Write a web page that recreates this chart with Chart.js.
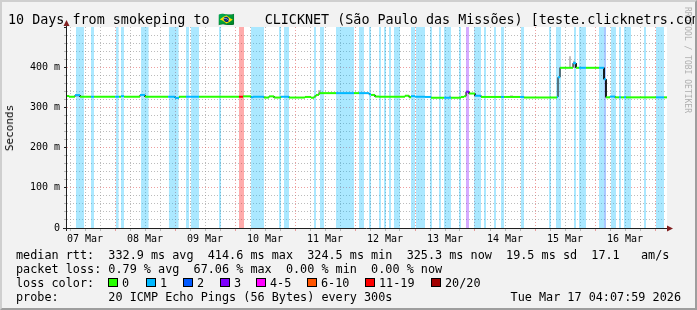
<!DOCTYPE html>
<html>
<head>
<meta charset="utf-8">
<script src="https://cdn.jsdelivr.net/npm/chart.js@4.4.1/dist/chart.umd.min.js"></script>
<style>
  html, body { margin: 0; padding: 0; }
  body {
    width: 697px; height: 310px; position: relative; overflow: hidden;
    background: #f2f2f2; color: #000;
    font-family: "DejaVu Sans Mono", monospace;
  }
  canvas { position: absolute; left: 0; top: 0; }
  #frame {
    position: absolute; left: 0; top: 0; width: 697px; height: 310px;
    box-sizing: border-box; border: 2px solid;
    border-color: #cfcfcf #9e9e9e #9e9e9e #cfcfcf;
  }
  .txt { position: absolute; white-space: pre; }
  #title { left: 8px; top: 11.7px; font-size: 13.4px; line-height: 16px; }
  .flag { display: inline-block; width: 39px; }
  #mark {
    left: 691px; top: 7px; font-size: 8px; line-height: 8px; color: #b0b0b0;
    transform-origin: 0 0; transform: rotate(90deg);
  }
  #ytitle {
    left: 10px; top: 128px; font-size: 11px; line-height: 12px;
    transform: translate(-50%, -50%) rotate(-90deg);
  }
  .row { font-size: 11.8px; line-height: 14px; }
  .sw {
    position: absolute; top: 278px; width: 10px; height: 9px;
    box-sizing: border-box; border: 1px solid #000;
  }
</style>
</head>
<body>
<canvas id="rttChart" width="697" height="310"></canvas>
<div id="mark" class="txt">RRDTOOL / TOBI OETIKER</div>
<div id="title" class="txt">10 Days from smokeping to <span class="flag">🇧🇷</span> CLICKNET (São Paulo das Missões) [teste.clicknetrs.com]</div>
<div id="ytitle" class="txt">Seconds</div>
<div class="txt row" style="left:16px;top:247.5px">median rtt:  332.9 ms avg  414.6 ms max  324.5 ms min  325.3 ms now  19.5 ms sd  17.1   am/s</div>
<div class="txt row" style="left:16px;top:261.5px">packet loss: 0.79 % avg  67.06 % max  0.00 % min  0.00 % now</div>
<div class="txt row" style="left:16px;top:275.5px">loss color:</div>
<div id="lossLegend"></div>
<div class="txt row" style="left:16px;top:289.5px">probe:       20 ICMP Echo Pings (56 Bytes) every 300s</div>
<div class="txt row" style="right:16px;top:289.5px">Tue Mar 17 04:07:59 2026</div>
<div id="frame"></div>

<script>
// =========================================
// Data (hours counted from 07 Mar 00:00)
// =========================================

const dayLabels = [
    "07 Mar", "08 Mar", "09 Mar", "10 Mar", "11 Mar",
    "12 Mar", "13 Mar", "14 Mar", "15 Mar", "16 Mar"
];

const yTickLabels = ["0", "100 m", "200 m", "300 m", "400 m"];

const lossLabels = ["0", "1", "2", "3", "4-5", "6-10", "11-19", "20/20"];

const lossColors = [
    "#26ff00", "#00b8ff", "#0059ff", "#7e00ff",
    "#ff00ff", "#ff5500", "#ff0000", "#a10000"
];

// median rtt, one step per entry (value holds until the next hour)
const medianHours = [
    4.8, 5.6, 8.0, 10.0, 14.4, 15.6, 24.0, 25.6, 26.4, 27.6,
    34.0, 36.0, 45.2, 48.0, 49.6, 52.4, 57.6, 73.6, 75.2, 78.4,
    79.2, 83.6, 85.6, 87.6, 90.4, 93.6, 100.0, 102.4, 103.6, 104.4,
    105.6, 112.4, 119.6, 121.6, 125.6, 126.4, 128.0, 129.6, 140.0, 141.6,
    142.4, 144.0, 148.0, 150.4, 155.6, 158.4, 162.4, 163.6, 164.4, 165.6,
    168.0, 170.4, 178.4, 179.6, 186.0, 187.6, 200.8, 201.2, 202.0, 207.2,
    208.4, 209.6, 212.4, 217.6, 219.6, 220.4, 222.0, 224.0, 225.6, 226.4,
    227.6, 228.4, 240.4, 243.6
];

const medianRtt = [
    328.5, 326.5, 330.5, 326.5, 326.5, 326.5, 326.5, 326.5, 328, 326.5,
    331, 326.5, 326.5, 323.5, 326.5, 326.5, 326.5, 326.5, 327.5, 325,
    326.5, 324.5, 327.5, 324.5, 326.5, 324.5, 326, 324, 327, 331,
    335.5, 335.5, 335.5, 335.5, 333, 331, 327, 326.5, 329, 325.5,
    328, 326.5, 326, 324, 324, 324, 326, 328, 339, 334.5,
    329, 326, 326, 326, 326, 324.5, 326, 375, 398.5, 410,
    398.5, 398.5, 398.5, 398.5, 370, 325, 327, 325, 325, 325,
    325, 325, 325, 325
];

// index into lossColors
const medianLoss = [
    0, 0, 1, 0, 1, 0, 1, 0, 1, 0,
    1, 0, 1, 1, 0, 1, 0, 6, 0, 1,
    1, 0, 0, 0, 1, 0, 0, 0, 0, 0,
    0, 1, 0, 1, 1, 0, 0, 0, 0, 0,
    1, 1, 1, 0, 1, 0, 0, 0, 3, 0,
    1, 0, 1, 0, 1, 0, 1, 1, 0, 1,
    0, 1, 0, 1, 1, 0, 1, 0, 1, 0,
    1, 0, 1, 0
];

// loss background bands
const bandStart = [
    8.4, 14.4, 24.3, 26.4, 34.4, 45.5, 52.4, 54.4, 65.6, 73.6,
    78.4, 89.6, 91.6, 103.6, 106.0, 112.4, 121.6, 125.6, 129.6, 131.6,
    133.6, 135.6, 142.4, 144.4, 150.0, 153.6, 155.6, 161.6, 164.4, 167.6,
    171.6, 175.6, 178.4, 186.4, 197.6, 200.4, 207.6, 209.6, 217.6, 219.6,
    222.4, 225.6, 227.6, 235.6, 240.4
];
const bandEnd = [
    11.6, 15.6, 25.5, 27.6, 37.5, 49.5, 53.6, 57.6, 66.4, 75.6,
    83.6, 90.4, 93.6, 104.4, 107.6, 119.6, 123.6, 126.4, 130.4, 132.4,
    134.4, 138.0, 144.0, 148.0, 150.8, 154.4, 158.4, 162.4, 165.6, 170.4,
    172.4, 176.4, 179.6, 187.6, 198.4, 202.4, 208.4, 212.4, 219.6, 220.4,
    224.4, 226.4, 230.4, 236.4, 243.6
];
const bandLoss = [
    1, 1, 1, 1, 1, 1, 1, 1, 1, 6,
    1, 1, 1, 1, 1, 1, 1, 1, 1, 1,
    1, 1, 1, 1, 1, 1, 1, 1, 3, 1,
    1, 1, 1, 1, 1, 1, 1, 1, 1, 2,
    1, 1, 1, 1, 1
];

// smoke (rtt spread) around the median
const smokeStart = [8.0, 105.2, 157.6, 182.0, 205.6, 207.2];
const smokeEnd = [10.0, 106.4, 158.4, 183.2, 206.4, 208.0];
const smokeLow = [327, 335, 324, 326, 399, 401];
const smokeHigh = [333, 343, 329, 330, 427, 416];


// =========================================
// Datasets
// =========================================

const xMin = 4.8;
const xMax = 244.8;
const yMax = 500;

function withAlpha(hex, a) {
    const n = parseInt(hex.slice(1), 16);
    return "rgba(" + (n >> 16) + "," + ((n >> 8) & 255) + "," + (n & 255) + "," + a + ")";
}

const datasets = [];

// coloured median, horizontal runs only
const runs = [];
medianRtt.forEach((v, i) => {
    const end = i + 1 < medianHours.length ? medianHours[i + 1] : xMax;
    runs.push({ x: medianHours[i], y: v }, { x: end, y: v }, { x: end, y: null });
});
datasets.push({
    data: runs,
    order: 0,
    borderWidth: 2,
    borderColor: "#26ff00",
    borderCapStyle: "butt",
    segment: {
        borderColor: ctx => lossColors[medianLoss[Math.floor(ctx.p0DataIndex / 3)]]
    },
    fill: false
});

// thin black risers between the steps
const risers = [];
for (let i = 1; i < medianRtt.length; i++) {
    if (medianRtt[i] === medianRtt[i - 1]) continue;
    risers.push(
        { x: medianHours[i], y: medianRtt[i - 1] },
        { x: medianHours[i], y: medianRtt[i] },
        { x: medianHours[i], y: null }
    );
}
datasets.push({
    data: risers,
    order: 1,
    borderWidth: 1,
    borderColor: "#000000",
    fill: false
});

// smoke
const smokeTop = [];
const smokeBottom = [];
smokeStart.forEach((s, i) => {
    smokeTop.push({ x: s, y: smokeHigh[i] }, { x: smokeEnd[i], y: smokeHigh[i] }, { x: smokeEnd[i], y: null });
    smokeBottom.push({ x: s, y: smokeLow[i] }, { x: smokeEnd[i], y: smokeLow[i] }, { x: smokeEnd[i], y: null });
});
datasets.push({
    data: smokeTop, order: 2, borderWidth: 0,
    backgroundColor: "rgba(110,110,110,0.45)",
    fill: "+1"
});
datasets.push({ data: smokeBottom, order: 3, borderWidth: 0, fill: false });

// loss bands, one dataset per loss level
[...new Set(bandLoss)].forEach(level => {
    const pts = [];
    bandStart.forEach((s, i) => {
        if (bandLoss[i] !== level) return;
        pts.push({ x: s, y: yMax }, { x: bandEnd[i], y: yMax }, { x: bandEnd[i], y: null });
    });
    datasets.push({
        data: pts,
        order: 4,
        borderWidth: 0,
        backgroundColor: withAlpha(lossColors[level], 0.33),
        fill: "origin"
    });
});


// =========================================
// Loss colour legend
// =========================================

const legendBox = document.getElementById("lossLegend");
const swatchX = [108, 146, 183, 220, 256, 307, 365, 431];
lossLabels.forEach((lab, i) => {
    const sw = document.createElement("div");
    sw.className = "sw";
    sw.style.left = swatchX[i] + "px";
    sw.style.background = lossColors[i];
    legendBox.appendChild(sw);
    const t = document.createElement("div");
    t.className = "txt row";
    t.style.left = (swatchX[i] + 14) + "px";
    t.style.top = "275.5px";
    t.textContent = lab;
    legendBox.appendChild(t);
});


// =========================================
// Chart
// =========================================

const GRID = "rgba(143,143,143,0.6)";
const MGRID = "rgba(222,79,79,0.55)";

const rrdFrame = {
    id: "rrdFrame",
    beforeDraw(chart) {
        const { ctx, chartArea: a } = chart;
        ctx.save();
        ctx.fillStyle = "#ffffff";
        ctx.fillRect(a.left, a.top, a.right - a.left, a.bottom - a.top);
        ctx.restore();
    },
    afterDraw(chart) {
        const { ctx, chartArea: a } = chart;
        ctx.save();
        ctx.strokeStyle = "#1f1f1f";
        ctx.lineWidth = 1;
        ctx.beginPath();
        ctx.moveTo(a.left - 0.5, a.bottom + 3);
        ctx.lineTo(a.left - 0.5, a.top - 4);
        ctx.moveTo(a.left - 4, a.bottom + 0.5);
        ctx.lineTo(a.right + 3, a.bottom + 0.5);
        ctx.stroke();
        ctx.fillStyle = "#801f1f";
        ctx.beginPath();
        ctx.moveTo(a.left - 0.5, a.top - 7);
        ctx.lineTo(a.left - 3.5, a.top - 1);
        ctx.lineTo(a.left + 2.5, a.top - 1);
        ctx.closePath();
        ctx.fill();
        ctx.beginPath();
        ctx.moveTo(a.right + 6, a.bottom + 0.5);
        ctx.lineTo(a.right, a.bottom - 2.5);
        ctx.lineTo(a.right, a.bottom + 3.5);
        ctx.closePath();
        ctx.fill();
        ctx.restore();
    }
};

const tickFont = { family: "DejaVu Sans Mono", size: 10 };

new Chart(document.getElementById("rttChart"), {
    type: "line",
    data: { datasets: datasets },
    options: {
        responsive: false,
        animation: false,
        devicePixelRatio: 1,
        events: [],
        layout: { padding: { left: 0, top: 27, right: 30, bottom: 62 } },
        elements: { point: { radius: 0 }, line: { tension: 0 } },
        plugins: {
            legend: { display: false },
            tooltip: { enabled: false },
            title: { display: false }
        },
        scales: {
            x: {
                type: "linear",
                min: xMin,
                max: xMax,
                afterBuildTicks: s => {
                    const t = [];
                    for (let h = 6; h < xMax; h += 6) t.push({ value: h });
                    s.ticks = t;
                },
                afterFit: s => { s.height = 20; },
                ticks: {
                    autoSkip: false,
                    maxRotation: 0,
                    minRotation: 0,
                    padding: 2,
                    color: "#000",
                    font: tickFont,
                    callback: v => (v % 24 === 12 ? dayLabels[(v - 12) / 24] : "")
                },
                grid: {
                    color: c => (c.tick.value % 24 === 0 ? MGRID : GRID),
                    tickColor: c => (c.tick.value % 24 === 0 ? MGRID : GRID),
                    tickLength: 3,
                    lineWidth: 1
                },
                border: { display: false, dash: [1, 2] }
            },
            y: {
                type: "linear",
                min: 0,
                max: yMax,
                afterBuildTicks: s => {
                    const t = [];
                    for (let v = 0; v <= yMax; v += 20) t.push({ value: v });
                    s.ticks = t;
                },
                afterFit: s => { s.width = 67; },
                ticks: {
                    autoSkip: false,
                    padding: 4,
                    color: "#000",
                    font: tickFont,
                    callback: v => (v % 100 === 0 && v < yMax ? yTickLabels[v / 100] : "")
                },
                grid: {
                    color: c => (c.tick.value >= yMax || c.tick.value === 0 ? "rgba(0,0,0,0)"
                        : c.tick.value % 100 === 0 ? MGRID : GRID),
                    tickColor: c => (c.tick.value % 100 === 0 ? "#1f1f1f" : GRID),
                    tickLength: 3,
                    lineWidth: 1
                },
                border: { display: false, dash: [1, 2] }
            }
        }
    },
    plugins: [rrdFrame]
});
</script>
</body>
</html>
